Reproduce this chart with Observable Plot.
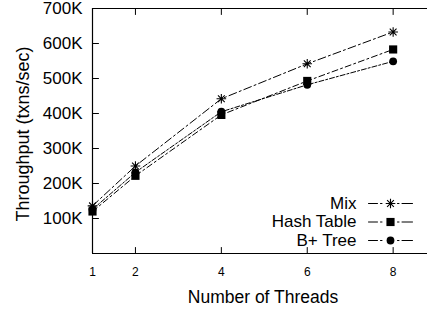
<!DOCTYPE html>
<html>
<head>
<meta charset="utf-8">
<script src="https://cdn.jsdelivr.net/npm/d3@7"></script>
<script src="https://cdn.jsdelivr.net/npm/@observablehq/plot@0.6"></script>
<style>
  html, body { margin: 0; padding: 0; background: #fff; }
  #chart svg { display: block; }
</style>
</head>
<body>
<div id="chart"></div>
<script>
// ---- data ----
const threads = [1, 2, 4, 6, 8];
const mix = [136000, 250000, 442000, 542000, 633000];
const hashTable = [120000, 222000, 396000, 493000, 583000];
const bTree = [126000, 232000, 405000, 482000, 549000];
const seriesNames = ["Mix", "Hash Table", "B+ Tree"];
const xTicks = [1, 2, 4, 6, 8];
const yTicks = [100000, 200000, 300000, 400000, 500000, 600000, 700000];
const xDomain = [1, 8.8];
const yDomain = [0, 700000];

// ---- build table ----
const seriesValues = {"Mix": mix, "Hash Table": hashTable, "B+ Tree": bTree};
const rows = seriesNames.flatMap(name => threads.map((t, i) => ({series: name, threads: t, value: seriesValues[name][i]})));

// ---- styles ----
const asterisk8 = {
  draw(context, size) {
    const r = Math.sqrt(size / Math.PI);
    const d = r * Math.SQRT1_2;
    context.moveTo(-r, 0); context.lineTo(r, 0);
    context.moveTo(0, -r); context.lineTo(0, r);
    context.moveTo(-d, -d); context.lineTo(d, d);
    context.moveTo(-d, d); context.lineTo(d, -d);
  }
};
const lineShape = {draw(context, l) { context.moveTo(0, 0); context.lineTo(0, -l); }};
const style = {
  "Mix": {symbol: asterisk8, r: 4.8, fill: "none", stroke: "black", strokeWidth: 1.1, dash: "8,3,2,3"},
  "Hash Table": {symbol: "square", r: 4.6, fill: "black", stroke: "none", strokeWidth: 0, dash: "6,3,2,3"},
  "B+ Tree": {symbol: "circle", r: 3.9, fill: "black", stroke: "none", strokeWidth: 0, dash: "5,2,2,2"}
};

const marks = [
  Plot.ruleY(yDomain, {stroke: "black", strokeWidth: 1.2}),
  Plot.ruleX([xDomain[0]], {stroke: "black", strokeWidth: 1.2}),
  // inward ticks
  Plot.vector(yTicks.slice(0, -1), {y: d => d, frameAnchor: "left", rotate: 90, length: 6, anchor: "start", shape: lineShape, stroke: "black", strokeWidth: 1}),
  Plot.vector(xTicks.slice(1), {x: d => d, frameAnchor: "bottom", rotate: 0, length: 6, anchor: "start", shape: lineShape, stroke: "black", strokeWidth: 1}),
  Plot.vector(xTicks.slice(1), {x: d => d, frameAnchor: "top", rotate: 180, length: 6, anchor: "start", shape: lineShape, stroke: "black", strokeWidth: 1}),
  Plot.axisY(yTicks, {tickSize: 0, tickPadding: 10, tickFormat: d => d / 1000 + "K", fontSize: 17, label: null}),
  Plot.axisX(xTicks, {tickSize: 0, tickPadding: 14, tickFormat: d => String(d), fontSize: 12, label: null}),
  Plot.text(["Number of Threads"], {text: d => d, frameAnchor: "bottom", textAnchor: "middle", dy: 44, dx: 3, fontSize: 17.5, lineAnchor: "middle"}),
  Plot.text(["Throughput (txns/sec)"], {text: d => d, frameAnchor: "left", textAnchor: "middle", rotate: -90, dx: -69, dy: 3, fontSize: 18, lineAnchor: "middle"})
];

seriesNames.forEach((name, i) => {
  const s = style[name];
  const data = rows.filter(d => d.series === name);
  marks.push(Plot.line(data, {x: "threads", y: "value", stroke: "black", strokeWidth: 1, strokeDasharray: s.dash}));
  marks.push(Plot.dot(data, {x: "threads", y: "value", symbol: s.symbol, r: s.r, fill: s.fill, stroke: s.stroke, strokeWidth: s.strokeWidth}));
  // legend entry
  const dy = -50 + i * 18.5;
  marks.push(Plot.text([name], {text: d => d, frameAnchor: "bottom-right", textAnchor: "end", lineAnchor: "middle", dx: -71, dy, fontSize: 17}));
  marks.push(Plot.vector([name], {frameAnchor: "bottom-right", dx: -59, dy, rotate: 90, length: 44, anchor: "start", shape: lineShape, stroke: "black", strokeWidth: 1, strokeDasharray: "9,3,1.5,15.5,1.5,3,11"}));
  marks.push(Plot.dot([name], {frameAnchor: "bottom-right", dx: -37, dy, symbol: s.symbol, r: s.r, fill: s.fill, stroke: s.stroke, strokeWidth: s.strokeWidth}));
});

const chart = Plot.plot({
  width: 427,
  height: 311,
  marginLeft: 92,
  marginRight: 0,
  marginTop: 8,
  marginBottom: 58,
  style: {fontFamily: "'Liberation Sans', Arial, Helvetica, sans-serif", background: "#fff", color: "black"},
  x: {type: "linear", domain: xDomain},
  y: {type: "linear", domain: yDomain},
  marks
});
document.getElementById("chart").appendChild(chart);
</script>
</body>
</html>
